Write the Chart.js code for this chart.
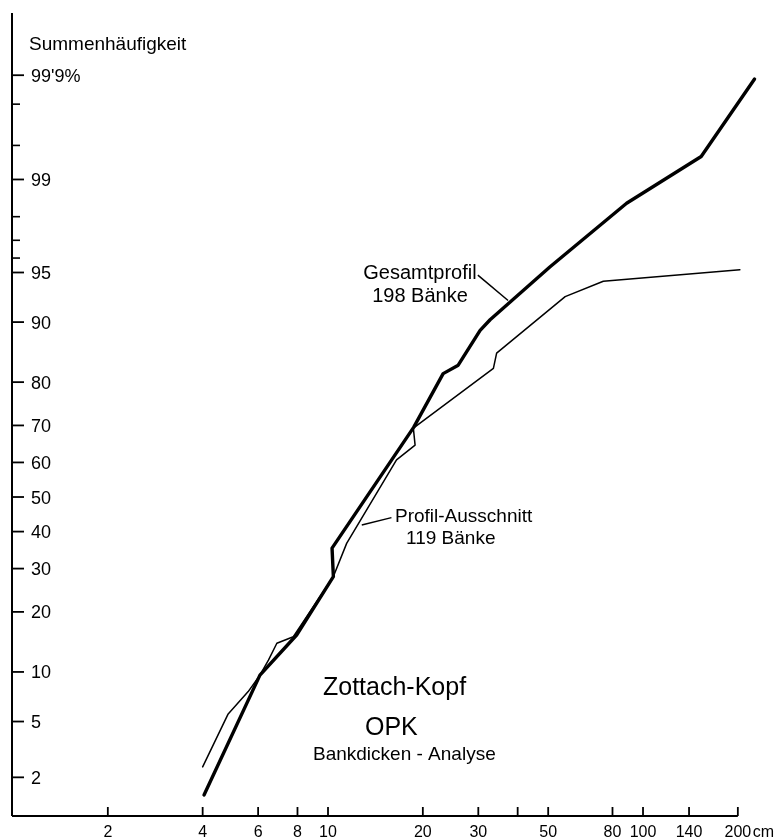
<!DOCTYPE html>
<html>
<head>
<meta charset="utf-8">
<script src="https://cdn.jsdelivr.net/npm/chart.js@4.4.1/dist/chart.umd.min.js"></script>
<style>
  html, body { margin: 0; padding: 0; background: #fff; }
  #c { display: block; }
</style>
</head>
<body>
<canvas id="c" width="779" height="839"></canvas>
<script>
// ---------------- data ----------------
// Gesamtprofil, 198 Bänke (thick line): bed thickness in cm, cumulative frequency in %
const gesamtCm  = [4.04, 6.08, 7.95, 10.4, 10.3, 18.7, 23.2, 25.9, 30.4, 32.7, 50.6, 88.7, 153, 226];
const gesamtPct = [1.45, 9.6, 15.6, 28, 35.4, 69.5, 81.7, 83.3, 88.9, 90.3, 95.4, 98.43, 99.37, 99.89];

// Profil-Ausschnitt, 119 Bänke (thin line)
const ausschnittCm  = [4.0, 4.82, 5.58, 6.08, 6.47, 6.88, 7.76, 10.4, 11.46, 16.5, 18.9, 18.66, 33.5, 34.3, 56.6, 74.8, 203];
const ausschnittPct = [2.4, 5.6, 7.7, 9.6, 11.6, 14.2, 15.3, 28, 36.7, 60.7, 64.8, 69.3, 82.7, 85.4, 92.9, 94.3, 95.2];

// axis ticks
const yTickLabels = [2, 5, 10, 20, 30, 40, 50, 60, 70, 80, 90, 95, 99, 99.9];
const yMinorTicks = [96, 97, 98, 99.5, 99.8];
const xTickLabels = [2, 4, 6, 8, 10, 20, 30, 50, 80, 100, 140, 200];
const xMinorTicks = [40];

// leader lines of the two curve labels, in data units (cm, %)
const gesamtLeader     = [[29.9, 94.8], [37.3, 92.5]];
const ausschnittLeader = [[12.8, 41.9], [15.9, 44.0]];

// ---------------- probability (normal) transform ----------------
function probit(p) {
  const a = [-3.969683028665376e+01, 2.209460984245205e+02, -2.759285104469687e+02, 1.383577518672690e+02, -3.066479806614716e+01, 2.506628277459239e+00];
  const b = [-5.447609879822406e+01, 1.615858368580409e+02, -1.556989798598866e+02, 6.680131188771972e+01, -1.328068155288572e+01];
  const c = [-7.784894002430293e-03, -3.223964580411365e-01, -2.400758277161838e+00, -2.549732539343734e+00, 4.374664141464968e+00, 2.938163982698783e+00];
  const d = [7.784695709041462e-03, 3.224671290700398e-01, 2.445134137142996e+00, 3.754408661907416e+00];
  const pl = 0.02425, ph = 1 - pl;
  let q, r;
  if (p < pl) {
    q = Math.sqrt(-2 * Math.log(p));
    return (((((c[0]*q+c[1])*q+c[2])*q+c[3])*q+c[4])*q+c[5]) / ((((d[0]*q+d[1])*q+d[2])*q+d[3])*q+1);
  }
  if (p <= ph) {
    q = p - 0.5; r = q * q;
    return (((((a[0]*r+a[1])*r+a[2])*r+a[3])*r+a[4])*r+a[5])*q / (((((b[0]*r+b[1])*r+b[2])*r+b[3])*r+b[4])*r+1);
  }
  q = Math.sqrt(-2 * Math.log(1 - p));
  return -(((((c[0]*q+c[1])*q+c[2])*q+c[3])*q+c[4])*q+c[5]) / ((((d[0]*q+d[1])*q+d[2])*q+d[3])*q+1);
}
const toPts = (xs, ps) => xs.map((x, i) => ({ x: x, y: probit(ps[i] / 100) }));

const FONT = '"Liberation Sans", Arial, sans-serif';
const INK = '#000';

// ---------------- axes drawn through the chart's scales ----------------
const axesPlugin = {
  id: 'probAxes',
  beforeDatasetsDraw(chart) {
    const { ctx, chartArea: ca, scales } = chart;
    const xs = scales.x, ys = scales.y;
    ctx.save();
    ctx.strokeStyle = INK;
    ctx.fillStyle = INK;
    ctx.lineCap = 'butt';

    // y axis line
    ctx.lineWidth = 2;
    ctx.beginPath();
    ctx.moveTo(ca.left, ca.top);
    ctx.lineTo(ca.left, ca.bottom);
    ctx.stroke();
    // x axis line up to last tick
    const xEnd = xs.getPixelForValue(xTickLabels[xTickLabels.length - 1]);
    ctx.beginPath();
    ctx.moveTo(ca.left, ca.bottom);
    ctx.lineTo(xEnd, ca.bottom);
    ctx.stroke();

    // y ticks + labels (inside)
    ctx.font = '18px ' + FONT;
    ctx.textAlign = 'left';
    ctx.textBaseline = 'alphabetic';
    yTickLabels.forEach(v => {
      const py = ys.getPixelForValue(probit(v / 100));
      ctx.lineWidth = 1.8;
      ctx.beginPath();
      ctx.moveTo(ca.left, py);
      ctx.lineTo(ca.left + 12, py);
      ctx.stroke();
      const txt = v === 99.9 ? "99'9%" : String(v);
      ctx.fillText(txt, ca.left + 19, py + 6.5);
    });
    yMinorTicks.forEach(v => {
      const py = ys.getPixelForValue(probit(v / 100));
      ctx.lineWidth = 1.6;
      ctx.beginPath();
      ctx.moveTo(ca.left, py);
      ctx.lineTo(ca.left + 8, py);
      ctx.stroke();
    });

    // x ticks (pointing up) + labels
    ctx.font = '16px ' + FONT;
    ctx.textAlign = 'center';
    xTickLabels.concat(xMinorTicks).forEach(v => {
      const px = xs.getPixelForValue(v);
      ctx.lineWidth = 1.8;
      ctx.beginPath();
      ctx.moveTo(px, ca.bottom);
      ctx.lineTo(px, ca.bottom - 9);
      ctx.stroke();
    });
    xTickLabels.forEach(v => {
      const px = xs.getPixelForValue(v);
      ctx.fillText(String(v), px, ca.bottom + 21);
    });
    ctx.textAlign = 'left';
    ctx.fillText('cm', xEnd + 15, ca.bottom + 21);

    // axis title
    ctx.font = '19px ' + FONT;
    ctx.fillText('Summenhäufigkeit', ca.left + 17, ca.top + 37);
    ctx.restore();
  }
};

// ---------------- labels and notes ----------------
const notesPlugin = {
  id: 'notes',
  afterDatasetsDraw(chart) {
    const { ctx, scales } = chart;
    const xs = scales.x, ys = scales.y;
    const P = (pt) => [xs.getPixelForValue(pt[0]), ys.getPixelForValue(probit(pt[1] / 100))];
    ctx.save();
    ctx.strokeStyle = INK;
    ctx.fillStyle = INK;
    ctx.lineWidth = 1.5;
    [gesamtLeader, ausschnittLeader].forEach(l => {
      const a = P(l[0]), b = P(l[1]);
      ctx.beginPath();
      ctx.moveTo(a[0], a[1]);
      ctx.lineTo(b[0], b[1]);
      ctx.stroke();
    });
    ctx.textBaseline = 'alphabetic';
    ctx.textAlign = 'center';
    ctx.font = '20px ' + FONT;
    ctx.fillText('Gesamtprofil', 420, 279);
    ctx.fillText('198 Bänke', 420, 302);
    ctx.textAlign = 'left';
    ctx.font = '19px ' + FONT;
    ctx.fillText('Profil-Ausschnitt', 395, 522);
    ctx.fillText('119 Bänke', 406, 544);
    ctx.font = '25px ' + FONT;
    ctx.fillText('Zottach-Kopf', 323, 695);
    ctx.fillText('OPK', 365, 735);
    ctx.font = '19px ' + FONT;
    ctx.fillText('Bankdicken - Analyse', 313, 760);
    ctx.restore();
  }
};

new Chart(document.getElementById('c'), {
  type: 'line',
  data: {
    datasets: [
      {
        label: 'Gesamtprofil 198 Bänke',
        data: toPts(gesamtCm, gesamtPct),
        borderColor: INK,
        borderWidth: 3.4,
        pointRadius: 0,
        tension: 0,
        fill: false,
        borderJoinStyle: 'round',
        borderCapStyle: 'round'
      },
      {
        label: 'Profil-Ausschnitt 119 Bänke',
        data: toPts(ausschnittCm, ausschnittPct),
        borderColor: INK,
        borderWidth: 1.5,
        pointRadius: 0,
        tension: 0,
        fill: false,
        borderJoinStyle: 'round',
        borderCapStyle: 'round'
      }
    ]
  },
  options: {
    responsive: false,
    animation: false,
    events: [],
    layout: { padding: { left: 12, top: 13, right: 0, bottom: 23 } },
    plugins: { legend: { display: false }, tooltip: { enabled: false } },
    scales: {
      x: { type: 'logarithmic', min: 0.9927, max: 270.2, display: false },
      y: { type: 'linear', min: -2.337, max: 3.546, display: false }
    }
  },
  plugins: [axesPlugin, notesPlugin]
});
</script>
</body>
</html>
